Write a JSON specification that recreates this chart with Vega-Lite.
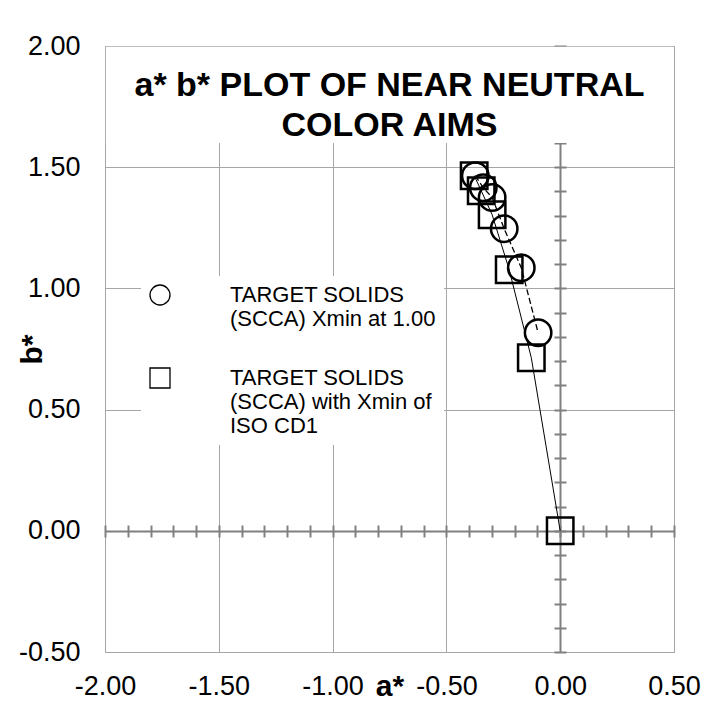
{
  "$schema": "https://vega.github.io/schema/vega-lite/v6.json",
  "width": 569,
  "height": 606,
  "autosize": {"type": "none"},
  "padding": {"left": 105, "top": 46, "right": 33, "bottom": 52},
  "background": "white",
  "title": {
    "text": ["a* b* PLOT OF NEAR NEUTRAL", "COLOR AIMS"],
    "fontSize": 34,
    "fontWeight": "bold",
    "font": "Liberation Sans",
    "color": "black",
    "lineHeight": 40,
    "anchor": "middle",
    "frame": "group",
    "baseline": "top",
    "offset": -111,
    "zindex": 1
  },
  "data": {
    "values": [
      {"series": "TARGET SOLIDS (SCCA) Xmin at 1.00", "i": 1, "a": -0.373, "b": 1.465},
      {"series": "TARGET SOLIDS (SCCA) Xmin at 1.00", "i": 2, "a": -0.338, "b": 1.415},
      {"series": "TARGET SOLIDS (SCCA) Xmin at 1.00", "i": 3, "a": -0.299, "b": 1.375},
      {"series": "TARGET SOLIDS (SCCA) Xmin at 1.00", "i": 4, "a": -0.246, "b": 1.246},
      {"series": "TARGET SOLIDS (SCCA) Xmin at 1.00", "i": 5, "a": -0.171, "b": 1.085},
      {"series": "TARGET SOLIDS (SCCA) Xmin at 1.00", "i": 6, "a": -0.097, "b": 0.817},
      {"series": "TARGET SOLIDS (SCCA) with Xmin of ISO CD1", "i": 1, "a": -0.378, "b": 1.465},
      {"series": "TARGET SOLIDS (SCCA) with Xmin of ISO CD1", "i": 2, "a": -0.347, "b": 1.403},
      {"series": "TARGET SOLIDS (SCCA) with Xmin of ISO CD1", "i": 3, "a": -0.299, "b": 1.304},
      {"series": "TARGET SOLIDS (SCCA) with Xmin of ISO CD1", "i": 4, "a": -0.224, "b": 1.077},
      {"series": "TARGET SOLIDS (SCCA) with Xmin of ISO CD1", "i": 5, "a": -0.127, "b": 0.714},
      {"series": "TARGET SOLIDS (SCCA) with Xmin of ISO CD1", "i": 6, "a": 0.0, "b": 0.0}
    ]
  },
  "layer": [
    {
      "transform": [{"filter": "datum.series == 'TARGET SOLIDS (SCCA) Xmin at 1.00'"}],
      "mark": {"type": "line", "color": "black", "strokeWidth": 1.3, "strokeDash": [6, 3]},
      "encoding": {
        "x": {
          "field": "a", "type": "quantitative",
          "scale": {"domain": [-2, 0.5], "nice": false, "zero": false},
          "axis": {
            "orient": "bottom",
            "values": [-2, -1.5, -1, -0.5, 0, 0.5],
            "labelExpr": "(datum.value < 0 ? '-' : '') + format(abs(datum.value), '.2f')",
            "ticks": false,
            "domain": false,
            "labelFontSize": 27,
            "labelPadding": 21,
            "labelColor": "black",
            "labelFlush": false,
            "labelOverlap": false,
            "grid": true,
            "gridColor": {"condition": {"test": "datum.value === 0", "value": "#808080"}, "value": "#a6a6a6"},
            "gridWidth": {"condition": {"test": "datum.value === 0", "value": 2}, "value": 1},
            "title": "a*",
            "titleFontSize": 30,
            "titleFontWeight": "bold",
            "titleColor": "black",
            "titleY": 43,
            "titleBaseline": "alphabetic"
          }
        },
        "y": {
          "field": "b", "type": "quantitative",
          "scale": {"domain": [-0.5, 2], "nice": false, "zero": false},
          "axis": {
            "orient": "left",
            "values": [-0.5, 0, 0.5, 1, 1.5, 2],
            "labelExpr": "(datum.value < 0 ? '-' : '') + format(abs(datum.value), '.2f')",
            "ticks": false,
            "domain": false,
            "labelFontSize": 27,
            "labelPadding": 25,
            "labelColor": "black",
            "labelFlush": false,
            "labelOverlap": false,
            "grid": true,
            "gridColor": {"condition": {"test": "datum.value === 0", "value": "#808080"}, "value": "#a6a6a6"},
            "gridWidth": {"condition": {"test": "datum.value === 0", "value": 2}, "value": 1},
            "title": "b*",
            "titleFontSize": 30,
            "titleFontWeight": "bold",
            "titleColor": "black",
            "titleX": -64,
            "titleBaseline": "alphabetic"
          }
        },
        "order": {"field": "i", "type": "quantitative"}
      }
    },
    {
      "transform": [{"filter": "datum.series == 'TARGET SOLIDS (SCCA) with Xmin of ISO CD1'"}],
      "mark": {"type": "line", "color": "black", "strokeWidth": 1},
      "encoding": {
        "x": {"field": "a", "type": "quantitative", "axis": null},
        "y": {"field": "b", "type": "quantitative", "axis": null},
        "order": {"field": "i", "type": "quantitative"}
      }
    },
    {
      "mark": {"type": "point", "filled": false, "color": "black", "strokeWidth": 2.5, "size": 700, "opacity": 1},
      "encoding": {
        "x": {
          "field": "a", "type": "quantitative",
          "axis": {
            "orient": "top",
            "offset": -491,
            "values": [-2, -1.9, -1.8, -1.7, -1.6, -1.5, -1.4, -1.3, -1.2, -1.1, -1, -0.9, -0.8, -0.7, -0.6, -0.5, -0.4, -0.3, -0.2, -0.1, 0, 0.1, 0.2, 0.3, 0.4, 0.5],
            "labels": false,
            "domain": false,
            "grid": false,
            "ticks": true,
            "tickSize": 12,
            "tickWidth": 2,
            "tickColor": "#808080",
            "title": null
          }
        },
        "y": {
          "field": "b", "type": "quantitative",
          "axis": {
            "orient": "right",
            "offset": -120,
            "values": [-0.5, -0.4, -0.3, -0.2, -0.1, 0, 0.1, 0.2, 0.3, 0.4, 0.5, 0.6, 0.7, 0.8, 0.9, 1, 1.1, 1.2, 1.3, 1.4, 1.5, 1.6, 1.7, 1.8, 1.9, 2],
            "labels": false,
            "domain": false,
            "grid": false,
            "ticks": true,
            "tickSize": 12,
            "tickWidth": 2,
            "tickColor": "#808080",
            "title": null
          }
        },
        "shape": {
          "field": "series", "type": "nominal",
          "scale": {"domain": ["TARGET SOLIDS (SCCA) Xmin at 1.00", "TARGET SOLIDS (SCCA) with Xmin of ISO CD1"], "range": ["circle", "square"]},
          "legend": {
            "title": null,
            "orient": "none",
            "legendX": 36,
            "legendY": 230,
            "fillColor": "white",
            "padding": 8,
            "symbolSize": 400,
            "symbolStrokeWidth": 1.3,
            "symbolStrokeColor": "black",
            "labelFontSize": 22,
            "labelColor": "black",
            "labelOffset": 59,
            "labelLimit": 400,
            "rowPadding": 35,
            "labelExpr": "datum.label == 'TARGET SOLIDS (SCCA) Xmin at 1.00' ? ['TARGET SOLIDS', '(SCCA) Xmin at 1.00'] : ['TARGET SOLIDS', '(SCCA) with Xmin of', 'ISO CD1']"
          }
        }
      }
    },
    {
      "data": {"values": [{}]},
      "mark": {"type": "rect", "fill": "white"},
      "encoding": {
        "x": {"datum": -1.996, "type": "quantitative", "axis": null},
        "x2": {"datum": 0.496},
        "y": {"datum": 1.997, "type": "quantitative", "axis": null},
        "y2": {"datum": 1.6}
      }
    }
  ],
  "resolve": {"axis": {"x": "independent", "y": "independent"}},
  "config": {
    "font": "Liberation Sans",
    "view": {"stroke": "#a6a6a6", "strokeWidth": 1}
  }
}
